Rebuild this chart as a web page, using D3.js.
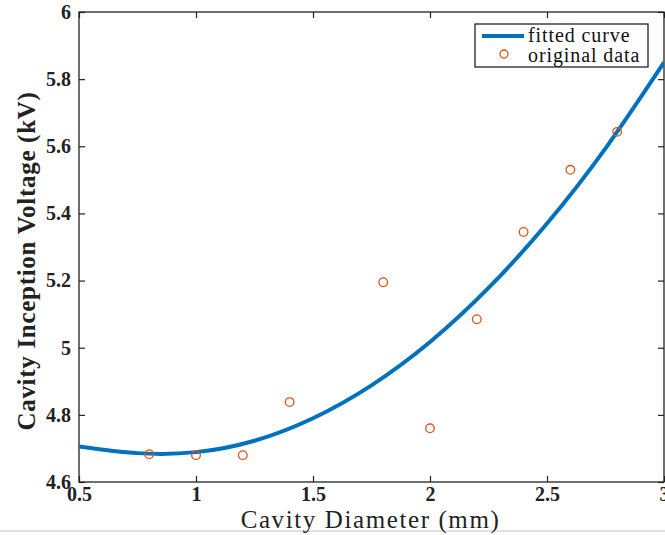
<!DOCTYPE html>
<html>
<head>
<meta charset="utf-8">
<script src="https://cdn.jsdelivr.net/npm/d3@7"></script>
<style>
  body { margin: 0; background: #fff; }
  svg { display: block; }
  .tick-label { font-family: "Liberation Serif", "DejaVu Serif", serif; font-size: 20px; font-weight: bold; fill: #222; }
  .axis-label { font-family: "Liberation Serif", "DejaVu Serif", serif; fill: #222; }
  .legend-text { font-family: "Liberation Serif", "DejaVu Serif", serif; font-size: 20px; fill: #111; }
</style>
</head>
<body>
<div id="main"></div>
<script>
// data
var diameter = [0.8, 1.0, 1.2, 1.4, 1.8, 2.0, 2.2, 2.4, 2.6, 2.8];
var voltage = [4.683, 4.68, 4.68, 4.838, 5.195, 4.76, 5.085, 5.345, 5.53, 5.643];

// points
var curve_x = [0.5, 0.75, 1.0, 1.25, 1.5, 1.75, 2.0, 2.25, 2.5, 2.75, 3.0];
var curve_y = [4.706, 4.686, 4.689, 4.723, 4.790, 4.888, 5.017, 5.178, 5.370, 5.594, 5.850];

var x_ticks = [0.5, 1, 1.5, 2, 2.5, 3];
var y_ticks = [4.6, 4.8, 5, 5.2, 5.4, 5.6, 5.8, 6];

// dimensions
var svg_width = 665,
    svg_height = 535;
var margin = {top: 12, right: 1, bottom: 53, left: 79};
var graph_width = svg_width - margin.left - margin.right,
    graph_height = svg_height - margin.top - margin.bottom;

var svg = d3.select("#main").append("svg")
    .attr("width", svg_width)
    .attr("height", svg_height);

// faint bottom border of the figure
svg.append("rect")
    .attr("x", 0).attr("y", 530)
    .attr("width", svg_width).attr("height", 2)
    .attr("fill", "#e2e2e2");

var g = svg.append("g")
    .attr("transform", "translate(" + margin.left + "," + margin.top + ")");

var xScale = d3.scaleLinear().domain([0.5, 3]).range([0, graph_width]);
var yScale = d3.scaleLinear().domain([4.6, 6]).range([graph_height, 0]);

// clip for the curve
g.append("clipPath").attr("id", "clip")
    .append("rect").attr("width", graph_width).attr("height", graph_height);

/** axes (matlab style, ticks inside, boxed) **/
var tickLen = 6;
g.append("g")
    .attr("transform", "translate(0," + graph_height + ")")
    .call(d3.axisBottom(xScale).tickValues(x_ticks).tickSizeInner(-tickLen).tickSizeOuter(0)
        .tickPadding(7).tickFormat(d3.format("")))
    .call(function(a) {
        a.select(".domain").remove();
        a.selectAll("text").attr("class", "tick-label").attr("dy", "0.6em");
    });
g.append("g")
    .call(d3.axisTop(xScale).tickValues(x_ticks).tickSizeInner(-tickLen).tickSizeOuter(0).tickFormat(""))
    .call(function(a) { a.select(".domain").remove(); });
g.append("g")
    .call(d3.axisLeft(yScale).tickValues(y_ticks).tickSizeInner(-tickLen).tickSizeOuter(0)
        .tickPadding(8).tickFormat(d3.format("")))
    .call(function(a) {
        a.select(".domain").remove();
        a.selectAll("text").attr("class", "tick-label");
    });
g.append("g")
    .attr("transform", "translate(" + graph_width + ",0)")
    .call(d3.axisRight(yScale).tickValues(y_ticks).tickSizeInner(-tickLen).tickSizeOuter(0).tickFormat(""))
    .call(function(a) { a.select(".domain").remove(); });
g.selectAll(".tick line").attr("stroke", "#222").attr("stroke-width", 1.2);

g.append("rect")
    .attr("width", graph_width).attr("height", graph_height)
    .attr("fill", "none").attr("stroke", "#222").attr("stroke-width", 1.3);

svg.append("text")
    .attr("class", "axis-label")
    .attr("x", margin.left + graph_width / 2 - 1)
    .attr("y", 528)
    .attr("text-anchor", "middle")
    .attr("font-size", "25px")
    .attr("letter-spacing", "1.6px")
    .text("Cavity Diameter (mm)");

svg.append("text")
    .attr("class", "axis-label")
    .attr("transform", "translate(35," + (margin.top + graph_height / 2 + 14) + ") rotate(-90)")
    .attr("text-anchor", "middle")
    .attr("font-size", "25px")
    .attr("font-weight", "bold")
    .attr("letter-spacing", "0.7px")
    .text("Cavity Inception Voltage (kV)");

/** fitted curve **/
var curve_data = curve_x.map(function(d, i) { return [d, curve_y[i]]; });
g.append("path")
    .datum(curve_data)
    .attr("clip-path", "url(#clip)")
    .attr("fill", "none")
    .attr("stroke", "#0072BD")
    .attr("stroke-width", 4)
    .attr("d", d3.line()
        .curve(d3.curveNatural)
        .x(function(d) { return xScale(d[0]); })
        .y(function(d) { return yScale(d[1]); }));

/** original data **/
g.selectAll(".pt")
    .data(diameter)
    .enter()
    .append("circle")
    .attr("class", "pt")
    .attr("cx", function(d) { return xScale(d); })
    .attr("cy", function(d, i) { return yScale(voltage[i]); })
    .attr("r", 4.3)
    .attr("fill", "none")
    .attr("stroke", "#D95319")
    .attr("stroke-width", 1.3);

/** legend **/
var legend = svg.append("g").attr("transform", "translate(475,24)");
legend.append("rect")
    .attr("width", 173).attr("height", 43)
    .attr("fill", "#fff").attr("stroke", "#222").attr("stroke-width", 1.3);
legend.append("line")
    .attr("x1", 7).attr("x2", 49).attr("y1", 12).attr("y2", 12)
    .attr("stroke", "#0072BD").attr("stroke-width", 4);
legend.append("text").attr("class", "legend-text")
    .attr("x", 53).attr("y", 18).attr("letter-spacing", "0.9px").text("fitted curve");
legend.append("circle")
    .attr("cx", 29).attr("cy", 30).attr("r", 4)
    .attr("fill", "none").attr("stroke", "#D95319").attr("stroke-width", 1.3);
legend.append("text").attr("class", "legend-text")
    .attr("x", 53).attr("y", 38).attr("letter-spacing", "0.9px").text("original data");
</script>
</body>
</html>
